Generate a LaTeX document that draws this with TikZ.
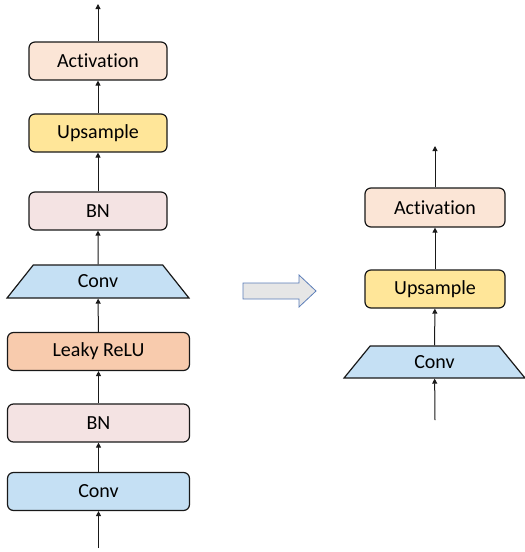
\documentclass[tikz,border=0pt]{standalone}
\usepackage{fontspec}
\setmainfont{Carlito}[Ligatures={NoCommon}]
\usetikzlibrary{shapes, arrows.meta, positioning}
\definecolor{actfill}{HTML}{FBE5D6}
\definecolor{upfill}{HTML}{FFE699}
\definecolor{bnfill}{HTML}{F4E3E3}
\definecolor{convfill}{HTML}{C5E0F4}
\definecolor{relufill}{HTML}{F8CBAD}
\definecolor{bigarrowfill}{HTML}{E6E6E6}
\definecolor{bigarrowedge}{HTML}{5B7DB8}
\tikzset{
    layer/.style={draw=black!90, line width=1.2pt, rounded corners=6pt,
        minimum width=#1, minimum height=38pt, inner sep=0pt,
        font=\fontsize{20}{24}\selectfont},
    layer/.default=138pt,
    convtrap/.style={draw=black!90, line width=1.2pt, trapezium,
        trapezium left angle=58, trapezium right angle=58, trapezium stretches=true,
        minimum width=#1, minimum height=33pt, inner sep=0pt, fill=convfill,
        font=\fontsize{20}{24}\selectfont},
    flow/.style={-{Triangle[length=5pt, width=5pt]}, line width=1pt, black!90},
}
\begin{document}
\begin{tikzpicture}[x=1pt, y=-1pt]
        \useasboundingbox (0,0) rectangle (525,552);
        % left block
        \node[layer=182pt, fill=convfill] (convA) at (98.5,491.5) {Conv};
        \node[layer=182pt, fill=bnfill] (bnA) at (98.5,423) {BN};
        \node[layer=182pt, fill=relufill] (relu) at (98.5,351.5) {Leaky ReLU};
        \node[convtrap=182pt] (convB) at (98,281.5) {Conv};
        \node[layer, fill=bnfill] (bnB) at (98,211) {BN};
        \node[layer, fill=upfill] (upA) at (98,133) {Upsample};
        \node[layer, fill=actfill] (actA) at (98,61) {Activation};
        \coordinate (inA) at (98.5,548);
        \coordinate (outA) at (98,4);
        \draw[flow] (inA) -- (convA);
        \draw[flow] (convA) -- (bnA);
        \draw[flow] (bnA) -- (relu);
        \draw[flow] (relu) -- (convB);
        \draw[flow] (convB) -- (bnB);
        \draw[flow] (bnB) -- (upA);
        \draw[flow] (upA) -- (actA);
        \draw[flow] (actA) -- (outA);
        % right block
        \node[convtrap=181pt, minimum height=32pt] (convC) at (434.5,362) {Conv};
        \node[layer=140pt, fill=upfill] (upB) at (435,289) {Upsample};
        \node[layer=140pt, fill=actfill, minimum height=39pt] (actB) at (435,207.5) {Activation};
        \coordinate (inB) at (435,420);
        \coordinate (outB) at (435,146);
        \draw[flow] (inB) -- (convC);
        \draw[flow] (convC) -- (upB);
        \draw[flow] (upB) -- (actB);
        \draw[flow] (actB) -- (outB);
        % big arrow
        \draw[fill=bigarrowfill, draw=bigarrowedge, line width=0.8pt]
            (243,283) -- (299,283) -- (299,275) -- (316,291) -- (299,307)
            -- (299,299) -- (243,299) -- cycle;
\end{tikzpicture}
\end{document}
